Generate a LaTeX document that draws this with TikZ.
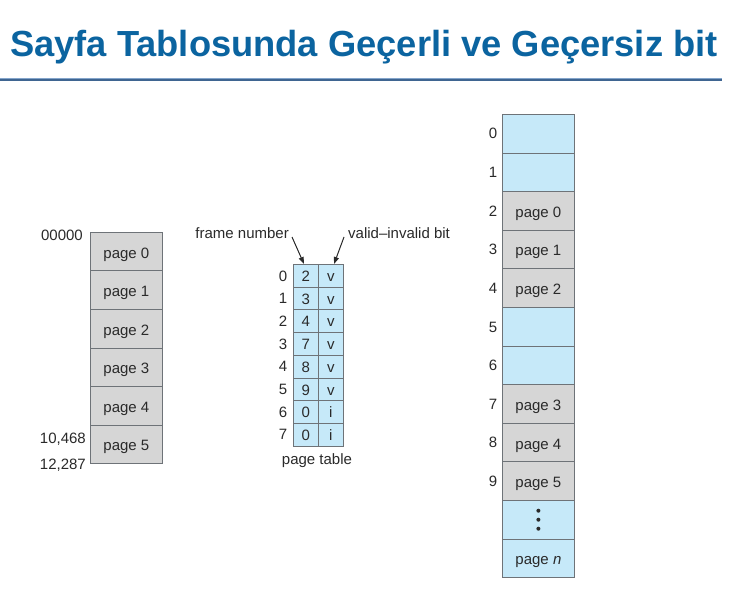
\documentclass[tikz,border=0pt]{standalone}
\usepackage{fontspec}
\setmainfont{Liberation Sans}
\usetikzlibrary{arrows.meta}
\definecolor{titleblue}{HTML}{0B64A0}
\definecolor{rulebl}{HTML}{4F7FB5}
\definecolor{cellblue}{HTML}{C6E9F9}
\definecolor{cellgray}{HTML}{D6D6D6}
\definecolor{edge}{HTML}{6E7378}
\definecolor{ink}{HTML}{2A2A2A}
\tikzset{
  cell/.style={draw=edge, line width=0.8pt, minimum width=72pt, minimum height=38.6pt,
    inner sep=0pt, text height=13pt, text depth=0pt, anchor=north west,
    font=\fontsize{15}{15}\selectfont, text=ink},
  pgcell/.style={cell, fill=cellgray},
  freecell/.style={cell, fill=cellblue},
  ptcell/.style={draw=edge, line width=0.8pt, fill=cellblue, minimum width=25pt,
    minimum height=22.7pt, inner sep=0pt, text height=11.5pt, text depth=0pt,
    anchor=north west, font=\fontsize{15}{15}\selectfont, text=ink},
  lbl/.style={font=\fontsize{15}{15}\selectfont, text=ink, inner sep=0pt},
  ptr/.style={-{Triangle[length=7pt,width=5pt]}, line width=1pt, ink}
}
\begin{document}
\begin{tikzpicture}[x=1pt,y=-1pt]
\useasboundingbox[fill=white] (0,0) rectangle (735,593);

% heading and rule
\node[anchor=base west, inner sep=0pt, text=titleblue,
  font=\fontsize{36.3}{36.3}\selectfont\bfseries] (title) at (10,57)
  {Sayfa Tablosunda Geçerli ve Geçersiz bit};
\coordinate (ruleL) at (0,80);
\coordinate (ruleR) at (722,80);
\draw[rulebl!70, line width=3pt] (ruleL) -- (ruleR);
\draw[rulebl!80!black, line width=1.2pt] (ruleL) -- (ruleR);

% logical memory
\foreach \i in {0,...,5} {
  \node[pgcell] (lm\i) at (90,{232+38.5*\i}) {page \i};
}
\node[lbl, anchor=base east] (a0) at (83,241) {00000};
\node[lbl, anchor=base east] (a1) at (86,443) {10,468};
\node[lbl, anchor=base east] (a2) at (86,469) {12,287};

% page table
\foreach \r/\f/\b in {0/2/v,1/3/v,2/4/v,3/7/v,4/8/v,5/9/v,6/0/i,7/0/i} {
  \node[ptcell] (pf\r) at (293,{264+22.7*\r}) {\f};
  \node[ptcell] (pb\r) at (318,{264+22.7*\r}) {\b};
  \node[lbl, anchor=base] (pi\r) at (283,{281+22.7*\r}) {\r};
}
\node[lbl] (ptname) at (317,461) {page table};
\node[lbl, anchor=east] (fn) at (289,233) {frame number};
\node[lbl, anchor=west] (vb) at (348,233) {valid–invalid bit};
\coordinate (fnA) at (292,237);
\coordinate (vbA) at (344,237);
\draw[ptr] (fnA) -- (pf0.north -| 304,264);
\draw[ptr] (vbA) -- (pb0.north -| 334,264);

% physical memory
\foreach \k/\t/\s in {0//freecell,1//freecell,2/page 0/pgcell,3/page 1/pgcell,
    4/page 2/pgcell,5//freecell,6//freecell,7/page 3/pgcell,8/page 4/pgcell,
    9/page 5/pgcell} {
  \node[\s] (pm\k) at (502,{114+38.6*\k}) {\t};
  \node[lbl, anchor=base] (fr\k) at (493,{139+38.6*\k}) {\k};
}
\node[freecell] (pmdots) at (502,500) {};
\foreach \d in {-9,0,9} {
  \fill[ink] ([yshift=\d pt]pmdots.center) circle (2pt);
}
\node[freecell] (pmn) at (502,538.6) {page \textit{n}};
\end{tikzpicture}
\end{document}
